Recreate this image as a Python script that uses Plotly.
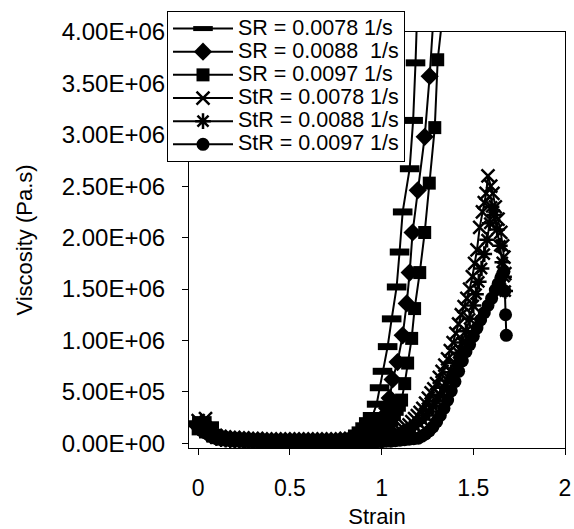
import plotly.graph_objects as go

# ---- data (viscosity values in units of 1e6 Pa.s) ----
base_strain = [0.0, 0.02, 0.04, 0.06, 0.08, 0.10, 0.125, 0.15, 0.175, 0.2, 0.225, 0.25,
               0.275, 0.3, 0.325, 0.35, 0.375, 0.4, 0.425, 0.45, 0.475, 0.5, 0.525, 0.55,
               0.575, 0.6, 0.625, 0.65, 0.675, 0.7, 0.725, 0.75, 0.775, 0.8, 0.825, 0.85]

sr78_base = [0.19, 0.23, 0.14, 0.18, 0.10, 0.08, 0.07, 0.06, 0.055, 0.05, 0.045, 0.045,
             0.04, 0.04, 0.035, 0.035, 0.03, 0.03, 0.03, 0.03, 0.03, 0.03, 0.03, 0.03,
             0.03, 0.03, 0.03, 0.03, 0.03, 0.03, 0.035, 0.035, 0.04, 0.045, 0.055, 0.07]
sr78_rise_strain = [0.87, 0.89, 0.91, 0.93, 0.951, 0.973, 0.989, 1.005, 1.033, 1.055,
                    1.082, 1.098, 1.115, 1.153, 1.172, 1.185, 1.195]
sr78_rise = [0.10, 0.13, 0.17, 0.22, 0.27, 0.38, 0.54, 0.70, 0.94, 1.21,
             1.52, 1.86, 2.25, 2.67, 3.14, 3.70, 4.25]

sr88_base = [0.16, 0.20, 0.12, 0.15, 0.08, 0.07, 0.06, 0.05, 0.045, 0.04, 0.04, 0.035,
             0.035, 0.03, 0.03, 0.03, 0.025, 0.025, 0.025, 0.025, 0.025, 0.025, 0.025, 0.025,
             0.025, 0.025, 0.025, 0.025, 0.025, 0.025, 0.025, 0.025, 0.03, 0.03, 0.035, 0.04]
sr88_rise_strain = [0.875, 0.9, 0.92, 0.94, 0.96, 0.98, 1.0, 1.015, 1.03, 1.044, 1.06,
                    1.087, 1.115, 1.137, 1.153, 1.169, 1.197, 1.235, 1.262, 1.285]
sr88_rise = [0.05, 0.06, 0.08, 0.10, 0.13, 0.17, 0.22, 0.27, 0.34, 0.44, 0.62,
             0.79, 1.05, 1.36, 1.66, 2.05, 2.46, 2.98, 3.57, 4.2]

sr97_base = [0.14, 0.17, 0.11, 0.13, 0.07, 0.06, 0.05, 0.045, 0.04, 0.035, 0.035, 0.03,
             0.03, 0.025, 0.025, 0.025, 0.02, 0.02, 0.02, 0.02, 0.02, 0.02, 0.02, 0.02,
             0.02, 0.02, 0.02, 0.02, 0.02, 0.02, 0.02, 0.02, 0.02, 0.025, 0.03, 0.035]
sr97_rise_strain = [0.875, 0.9, 0.925, 0.95, 0.975, 1.0, 1.02, 1.04, 1.055, 1.07, 1.085,
                    1.097, 1.109, 1.126, 1.142, 1.164, 1.18, 1.208, 1.235, 1.26, 1.29,
                    1.306, 1.335]
sr97_rise = [0.04, 0.045, 0.05, 0.06, 0.08, 0.11, 0.14, 0.19, 0.23, 0.28, 0.33,
             0.37, 0.42, 0.58, 0.78, 1.02, 1.31, 1.66, 2.05, 2.53, 3.07,
             3.73, 4.2]

str78_base = [0.22, 0.16, 0.24, 0.12, 0.08, 0.06, 0.05, 0.045, 0.04, 0.035, 0.03, 0.03,
              0.025, 0.025, 0.025, 0.02, 0.02, 0.02, 0.02, 0.02, 0.02, 0.02, 0.02, 0.02,
              0.02, 0.02, 0.02, 0.02, 0.02, 0.02, 0.02, 0.02, 0.02, 0.02, 0.02, 0.02]
str78_rise_strain = [0.875, 0.9, 0.925, 0.95, 0.975, 1.0, 1.02, 1.04, 1.06, 1.075, 1.09,
                     1.105, 1.12, 1.135, 1.15, 1.165, 1.18, 1.195, 1.21, 1.225, 1.24,
                     1.255, 1.27, 1.285, 1.30, 1.315, 1.33, 1.345, 1.36, 1.375, 1.39,
                     1.405, 1.42, 1.435, 1.45, 1.465, 1.48, 1.495, 1.507, 1.52, 1.535,
                     1.55, 1.56, 1.57, 1.58, 1.595, 1.607, 1.62, 1.635, 1.65, 1.66,
                     1.667, 1.672]
str78_rise = [0.02, 0.025, 0.03, 0.035, 0.04, 0.05, 0.06, 0.07, 0.08, 0.09, 0.11,
              0.12, 0.14, 0.16, 0.18, 0.21, 0.24, 0.27, 0.30, 0.34, 0.39,
              0.44, 0.49, 0.53, 0.58, 0.64, 0.70, 0.76, 0.82, 0.90, 0.98,
              1.07, 1.16, 1.25, 1.33, 1.41, 1.50, 1.62, 1.75, 1.88, 2.10,
              2.25, 2.34, 2.43, 2.60, 2.50, 2.43, 2.30, 2.18, 2.05, 1.92,
              1.81, 1.65]

str88_base = [0.18, 0.20, 0.14, 0.10, 0.07, 0.05, 0.04, 0.035, 0.03, 0.03, 0.025, 0.025,
              0.02, 0.02, 0.02, 0.015, 0.015, 0.015, 0.015, 0.015, 0.015, 0.015, 0.015, 0.015,
              0.015, 0.015, 0.015, 0.015, 0.015, 0.015, 0.015, 0.015, 0.015, 0.015, 0.015, 0.015]
str88_rise_strain = [0.875, 0.9, 0.925, 0.95, 0.975, 1.0, 1.02, 1.04, 1.06, 1.08, 1.10,
                     1.12, 1.14, 1.16, 1.18, 1.20, 1.22, 1.24, 1.26, 1.28, 1.30, 1.32,
                     1.34, 1.36, 1.38, 1.40, 1.42, 1.44, 1.46, 1.48, 1.50, 1.515, 1.53,
                     1.545, 1.56, 1.575, 1.59, 1.60, 1.615, 1.63, 1.645, 1.658, 1.668,
                     1.674]
str88_rise = [0.015, 0.02, 0.02, 0.025, 0.03, 0.035, 0.04, 0.05, 0.06, 0.07, 0.08,
              0.10, 0.12, 0.14, 0.17, 0.20, 0.23, 0.27, 0.31, 0.36, 0.41, 0.47,
              0.54, 0.61, 0.69, 0.78, 0.88, 0.98, 1.09, 1.21, 1.34, 1.45, 1.57,
              1.70, 1.84, 1.98, 2.14, 2.30, 2.22, 2.08, 1.92, 1.76, 1.62,
              1.48]

str97_base = [0.15, 0.12, 0.10, 0.08, 0.06, 0.045, 0.035, 0.03, 0.025, 0.02, 0.02, 0.015,
              0.015, 0.015, 0.015, 0.015, 0.015, 0.015, 0.015, 0.015, 0.015, 0.015, 0.015, 0.015,
              0.015, 0.01, 0.01, 0.01, 0.01, 0.01, 0.01, 0.01, 0.01, 0.01, 0.01, 0.01]
str97_rise_strain = [0.875, 0.9, 0.925, 0.95, 0.975, 1.0, 1.025, 1.05, 1.075, 1.10, 1.125,
                     1.15, 1.175, 1.20, 1.22, 1.24, 1.26, 1.28, 1.30, 1.32, 1.34, 1.36,
                     1.38, 1.40, 1.42, 1.44, 1.46, 1.48, 1.50, 1.52, 1.54, 1.56, 1.58,
                     1.60, 1.62, 1.635, 1.65, 1.66, 1.667, 1.672, 1.676, 1.68]
str97_rise = [0.01, 0.01, 0.01, 0.012, 0.015, 0.015, 0.02, 0.02, 0.025, 0.03, 0.035,
              0.04, 0.045, 0.05, 0.07, 0.09, 0.12, 0.16, 0.21, 0.27, 0.34, 0.42,
              0.51, 0.60, 0.70, 0.80, 0.89, 0.96, 1.04, 1.12, 1.20, 1.27, 1.34,
              1.41, 1.49, 1.55, 1.61, 1.65, 1.67, 1.48, 1.25, 1.05]

series_names = ["SR = 0.0078 1/s", "SR = 0.0088\u00a0 1/s", "SR = 0.0097 1/s",
                "StR = 0.0078 1/s", "StR = 0.0088 1/s", "StR = 0.0097 1/s"]

y_tick_vals = [0, 500000, 1000000, 1500000, 2000000, 2500000, 3000000, 3500000, 4000000]
y_tick_text = ["0.00E+00", "5.00E+05", "1.00E+06", "1.50E+06", "2.00E+06",
               "2.50E+06", "3.00E+06", "3.50E+06", "4.00E+06"]
x_tick_vals = [0, 0.5, 1, 1.5, 2]
x_tick_text = ["0", "0.5", "1", "1.5", "2"]

series = [
    (base_strain + sr78_rise_strain, sr78_base + sr78_rise),
    (base_strain + sr88_rise_strain, sr88_base + sr88_rise),
    (base_strain + sr97_rise_strain, sr97_base + sr97_rise),
    (base_strain + str78_rise_strain, str78_base + str78_rise),
    (base_strain + str88_rise_strain, str88_base + str88_rise),
    (base_strain + str97_rise_strain, str97_base + str97_rise),
]
for sx, sy in series:
    assert len(sx) == len(sy)

styles = [
    dict(symbol="line-ew-open", size=14, line=dict(width=7, color="black")),
    dict(symbol="diamond", size=14, color="black", line=dict(width=0)),
    dict(symbol="square", size=13, color="black", line=dict(width=0)),
    dict(symbol="x-thin-open", size=13, line=dict(width=2.5, color="black")),
    dict(symbol="asterisk-open", size=13, line=dict(width=2.5, color="black")),
    dict(symbol="circle", size=13, color="black", line=dict(width=0)),
]

FONT = "Liberation Sans, Arial, sans-serif"

fig = go.Figure()
for (sx, sy), name, mk in zip(series, series_names, styles):
    fig.add_trace(go.Scatter(
        x=sx, y=[v * 1e6 for v in sy],
        name='<span style="font-size:21.5px">' + name + '</span>',
        mode="lines+markers",
        line=dict(color="black", width=2), marker=mk,
    ))

fig.update_layout(
    template="none",
    width=574, height=529, autosize=False,
    margin=dict(l=189, r=9, t=32, b=81, pad=0),
    paper_bgcolor="white", plot_bgcolor="white",
    font=dict(family=FONT, color="black", size=22),
    showlegend=True,
    legend=dict(
        x=-0.0585, y=1.0505, xanchor="left", yanchor="top",
        bgcolor="white", bordercolor="black", borderwidth=1,
        font=dict(family=FONT, size=15.5, color="black"),
        itemwidth=60, tracegroupgap=0,
    ),
    xaxis=dict(
        range=[-0.05, 2], tickvals=x_tick_vals, ticktext=x_tick_text,
        automargin=False,
        showgrid=False, zeroline=False, showline=True, linecolor="black", linewidth=1,
        mirror=True, ticks="outside", ticklen=6, tickcolor="black",
        tickfont=dict(family=FONT, size=23), ticklabelstandoff=13,
        title=dict(text="Strain", font=dict(family=FONT, size=22), standoff=17),
    ),
    yaxis=dict(
        range=[-46000, 4000000], tickvals=y_tick_vals, ticktext=y_tick_text,
        automargin=False,
        showgrid=False, zeroline=False, showline=True, linecolor="black", linewidth=1,
        mirror=True, ticks="outside", ticklen=6, tickcolor="black",
        tickfont=dict(family=FONT, size=24), ticklabelstandoff=12,
        title=dict(text="Viscosity (Pa.s)", font=dict(family=FONT, size=22), standoff=23),
    ),
)

fig.write_html("out.html")
